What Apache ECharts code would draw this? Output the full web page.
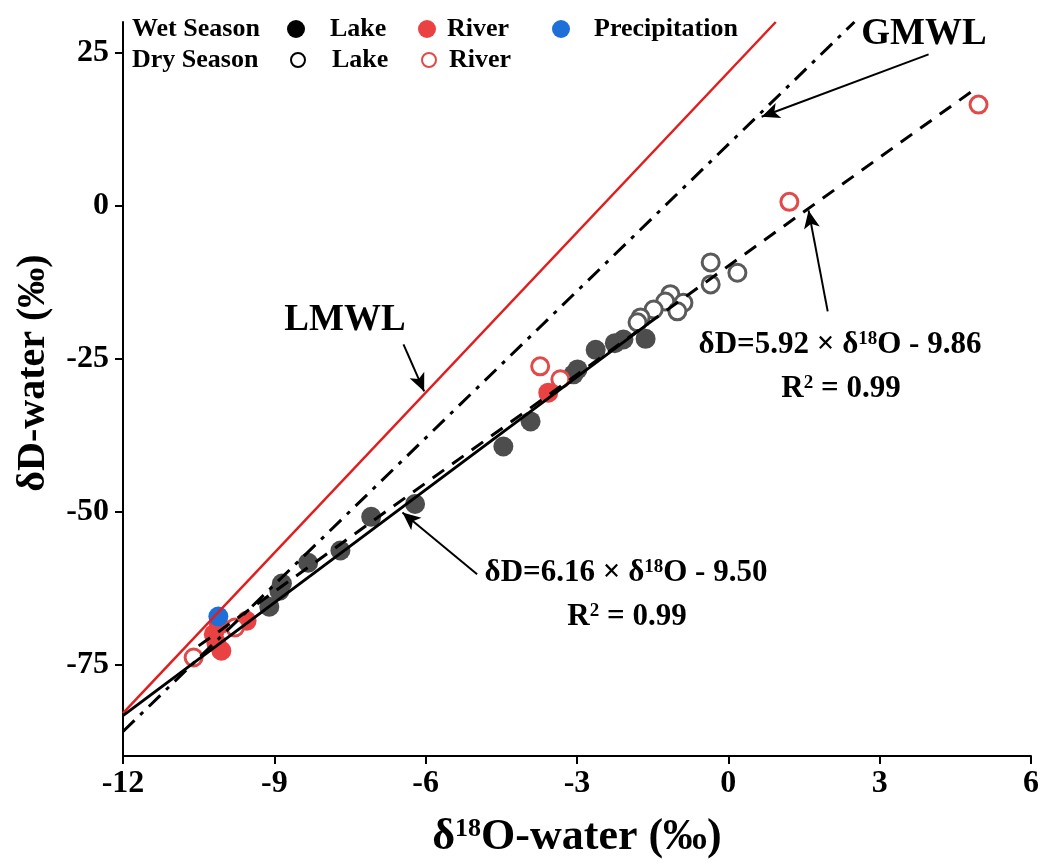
<!DOCTYPE html>
<html>
<head>
<meta charset="utf-8">
<script src="https://cdn.jsdelivr.net/npm/echarts@6/dist/echarts.min.js"></script>
<style>
  html, body { margin: 0; padding: 0; background: #fff; }
  #chart { width: 1043px; height: 864px; }
</style>
</head>
<body>
<div id="chart"></div>
<script>
// axis ticks
const xTicks = [-12, -9, -6, -3, 0, 3, 6];
const yTicks = [-75, -50, -25, 0, 25];

// samples: [δ18O, δD]
const wetLake = [
  [-1.64, -21.8], [-2.08, -21.9], [-2.25, -22.5], [-2.63, -23.6], [-2.99, -26.8],
  [-3.07, -27.6], [-3.92, -35.3], [-4.46, -39.4], [-6.21, -48.8], [-7.08, -50.9],
  [-7.69, -56.4], [-8.33, -58.4], [-8.85, -61.8], [-8.9, -63.0], [-9.1, -65.6]
];
const wetRiver = [
  [-3.57, -30.6], [-9.55, -67.9], [-10.1, -68.6], [-10.2, -70.1], [-10.15, -71.5], [-10.05, -72.8]
];
const precipitation = [[-10.11, -67.2]];
const dryLake = [
  [-0.35, -9.3], [0.18, -11.0], [-0.35, -12.9], [-1.15, -14.5], [-1.25, -15.7],
  [-0.89, -15.9], [-1.01, -17.3], [-1.48, -17.0], [-1.74, -18.3], [-1.8, -19.1]
];
const dryRiver = [
  [4.96, 16.5], [1.21, 0.6], [-3.73, -26.3], [-3.33, -28.4], [-9.78, -69.0], [-10.6, -73.9]
];

// lines (end points)
const lmwl = [[-12, -83], [0.94, 30]];
const gmwl = [[-12, -86], [2.5, 30]];
const dryFit = [[-10.5, -72.0], [4.9, 19.1]];
const wetFit = [[-12, -83.4], [-1.6, -19.4]];

// annotation arrows: [from, to]
const arrows = [
  [[-6.44, -22.7], [-6.03, -30.4]],
  [[3.97, 24.7], [0.66, 14.5]],
  [[1.97, -17.3], [1.59, -0.8]],
  [[-4.98, -60.3], [-6.46, -50.2]]
];

const serif = "'Liberation Serif', 'Times New Roman', serif";
const font = (size) => ({ fontFamily: serif, fontWeight: 'bold', fontSize: size, color: '#000' });

const chart = echarts.init(document.getElementById('chart'));

function fitLine(name, data, color, type, width) {
  return {
    name, type: 'line', data, symbol: 'none', silent: true, z: 3,
    lineStyle: { color, type, width }
  };
}

function eqText(x, y, a, b) {
  return [
    {
      type: 'text', x, y, z: 10,
      style: {
        text: `{a|δD=${a} × δ}{s|18}{a|O - ${b}}`,
        align: 'center', verticalAlign: 'middle',
        rich: { a: font(31), s: { ...font(19), verticalAlign: 'top' } }
      }
    },
    {
      type: 'text', x: x + 1, y: y + 44, z: 10,
      style: {
        text: '{a|R}{s|2}{a| = 0.99}',
        align: 'center', verticalAlign: 'middle',
        rich: { a: font(31), s: { ...font(19), verticalAlign: 'top' } }
      }
    }
  ];
}

const legendItems = [
  { name: 'Wet Lake', left: 287, top: 16, size: 18, pad: 20, style: { color: '#000' } },
  { name: 'Wet River', left: 418, top: 16, size: 18, pad: 6 },
  { name: 'Precipitation', left: 552, top: 16, size: 18, pad: 19 },
  { name: 'Dry Lake', left: 290, top: 47, size: 14, pad: 22, style: { borderColor: '#000' } },
  { name: 'Dry River', left: 421, top: 47, size: 14, pad: 8 }
];

chart.setOption({
  animation: false,
  backgroundColor: '#fff',
  grid: { left: 123, right: 12, top: 22, bottom: 108 },
  legend: legendItems.map((l) => ({
    data: [{ name: l.name, icon: 'circle', itemStyle: l.style }],
    left: l.left, top: l.top, padding: 0,
    itemWidth: l.size, itemHeight: l.size,
    selectedMode: false,
    formatter: (n) => n.split(' ').pop(),
    textStyle: { ...font(26), lineHeight: 26, padding: [0, 0, 0, l.pad] }
  })),
  xAxis: {
    type: 'value', min: -12, max: 6, interval: 3,
    axisLine: { show: true, onZero: false, lineStyle: { color: '#000', width: 2 } },
    axisTick: { show: true, length: 8, lineStyle: { color: '#000', width: 2 } },
    axisLabel: { ...font(32), margin: 12, customValues: xTicks },
    splitLine: { show: false }
  },
  yAxis: {
    type: 'value', min: -90, max: 30,
    axisLine: { show: true, onZero: false, lineStyle: { color: '#000', width: 2 } },
    axisTick: { show: true, length: 8, customValues: yTicks, lineStyle: { color: '#000', width: 2 } },
    axisLabel: { ...font(32), margin: 14, customValues: yTicks },
    splitLine: { show: false }
  },
  series: [
    { name: 'Wet Lake', type: 'scatter', data: wetLake, symbolSize: 20, itemStyle: { color: '#4d4d4d', opacity: 1 } },
    { name: 'Dry Lake', type: 'scatter', data: dryLake, symbolSize: 17,
      itemStyle: { color: '#fff', borderColor: '#5a5a5a', borderWidth: 3, opacity: 1 } },
    { name: 'Wet River', type: 'scatter', data: wetRiver, symbolSize: 20, itemStyle: { color: '#ea4242', opacity: 1 } },
    { name: 'Dry River', type: 'scatter', data: dryRiver, symbolSize: 17,
      itemStyle: { color: '#fff', borderColor: '#e24a4a', borderWidth: 3, opacity: 1 } },
    { name: 'Precipitation', type: 'scatter', data: precipitation, symbolSize: 20, itemStyle: { color: '#1f6fd8', opacity: 1 } },
    fitLine('LMWL', lmwl, '#e31d1d', 'solid', 2.5),
    fitLine('GMWL', gmwl, '#000', [16, 8, 4, 8], 3),
    fitLine('Dry fit', dryFit, '#000', [14, 10], 3),
    fitLine('Wet fit', wetFit, '#000', 'solid', 3),
    {
      name: 'arrows', type: 'scatter', data: [], silent: true,
      markLine: {
        silent: true, animation: false,
        symbol: ['none', 'arrow'], symbolSize: [12, 18],
        label: { show: false },
        lineStyle: { color: '#000', width: 2, type: 'solid' },
        data: arrows.map(([a, b]) => [{ coord: a }, { coord: b }])
      }
    }
  ],
  graphic: [
    { type: 'text', x: 132, y: 29, style: { text: 'Wet Season', ...font(26), fill: '#000', align: 'left', verticalAlign: 'middle' } },
    { type: 'text', x: 132, y: 60, style: { text: 'Dry Season', ...font(26), fill: '#000', align: 'left', verticalAlign: 'middle' } },
    { type: 'text', x: 345, y: 320, style: { text: 'LMWL', ...font(37), fill: '#000', align: 'center', verticalAlign: 'middle' } },
    { type: 'text', x: 924, y: 34, style: { text: 'GMWL', ...font(37), fill: '#000', align: 'center', verticalAlign: 'middle' } },
    ...eqText(840, 345, '5.92', '9.86'),
    ...eqText(626, 573, '6.16', '9.50'),
    {
      type: 'text', x: 34, y: 373, rotation: Math.PI / 2,
      style: { text: 'δD-water (‰)', ...font(40), fill: '#000', align: 'center', verticalAlign: 'middle' }
    },
    {
      type: 'text', x: 577, y: 838,
      style: {
        text: '{a|δ}{s|18}{a|O-water (‰)}', align: 'center', verticalAlign: 'middle',
        rich: { a: font(44), s: { ...font(26), verticalAlign: 'top' } }
      }
    }
  ]
});
</script>
</body>
</html>
